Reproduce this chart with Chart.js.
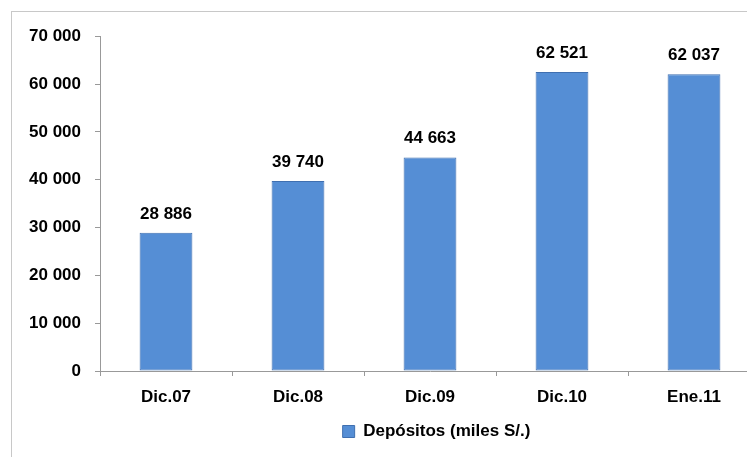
<!DOCTYPE html>
<html>
<head>
<meta charset="utf-8">
<script src="https://cdn.jsdelivr.net/npm/chart.js@4.4.0/dist/chart.umd.min.js"></script>
<style>
    html, body { margin: 0; padding: 0; background: #fff; overflow: hidden; }
    #marco {
        position: absolute; left: 11px; top: 11px;
        width: 849px; height: 446px;
        border-left: 1px solid #c8c8c8; border-top: 1px solid #c8c8c8;
    }
</style>
</head>
<body>
<div id="marco"><canvas id="grafico" width="849" height="438"></canvas></div>
<script>
// Datos del grafico
const periodos = ['Dic.07', 'Dic.08', 'Dic.09', 'Dic.10', 'Ene.11'];
const depositos = [28886, 39740, 44663, 62521, 62037];
const serieNombre = 'Depósitos (miles S/.)';

const fuente = { family: '"Liberation Sans", Arial, sans-serif', size: 17, weight: 'bold' };

// Formato con espacio como separador de miles
function formatoMiles(v) {
    return String(Math.round(v)).replace(/\B(?=(\d{3})+(?!\d))/g, ' ');
}

// Plugin para escribir los valores encima de cada barra
const etiquetasValor = {
    id: 'etiquetasValor',
    afterDatasetsDraw(chart) {
        const ctx = chart.ctx;
        const meta = chart.getDatasetMeta(0);
        ctx.save();
        ctx.font = 'bold 17px "Liberation Sans", Arial, sans-serif';
        ctx.fillStyle = '#000';
        ctx.textAlign = 'center';
        ctx.textBaseline = 'middle';
        meta.data.forEach((bar, i) => {
            ctx.fillText(formatoMiles(depositos[i]), bar.x, bar.y - 19);
        });
        ctx.restore();
    }
};

const ctx = document.getElementById('grafico').getContext('2d');
const grafico = new Chart(ctx, {
    type: 'bar',
    data: {
        labels: periodos,
        datasets: [{
            label: serieNombre,
            data: depositos,
            backgroundColor: '#558ed5',
            borderColor: '#3f6fb0',
            borderWidth: 1,
            borderSkipped: false,
            categoryPercentage: 1,
            barPercentage: 0.4
        }]
    },
    options: {
        responsive: false,
        animation: false,
        layout: { padding: { top: 24, left: 0, right: 0, bottom: 0 } },
        plugins: {
            tooltip: { enabled: false },
            legend: {
                display: true,
                position: 'bottom',
                labels: {
                    color: '#000',
                    font: fuente,
                    boxWidth: 12,
                    boxHeight: 12,
                    padding: 10
                }
            }
        },
        scales: {
            x: {
                offset: true,
                grid: {
                    offset: true,
                    drawOnChartArea: false,
                    color: '#999',
                    tickLength: 5
                },
                border: { color: '#999' },
                ticks: { color: '#000', font: fuente, padding: 11 },
                afterFit: s => { s.height = 42; }
            },
            y: {
                min: 0,
                max: 70000,
                grid: {
                    drawOnChartArea: false,
                    color: '#999',
                    tickLength: 5
                },
                border: { color: '#999' },
                ticks: {
                    stepSize: 10000,
                    color: '#000',
                    font: fuente,
                    padding: 14,
                    callback: v => formatoMiles(v)
                },
                afterFit: s => { s.width = 88; }
            },
            relleno: {
                position: 'right',
                display: true,
                grid: { display: false },
                border: { display: false },
                ticks: { display: false },
                afterFit: s => { s.width = 101; }
            }
        }
    },
    plugins: [etiquetasValor]
});
</script>
</body>
</html>
